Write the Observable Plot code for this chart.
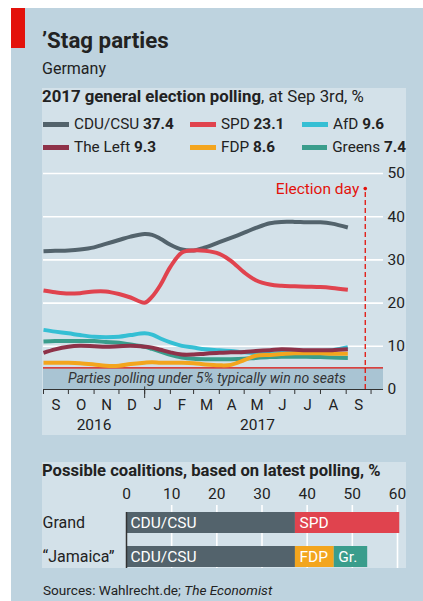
<!DOCTYPE html>
<html><head><meta charset="utf-8">
<script src="https://cdn.jsdelivr.net/npm/d3@7"></script>
<script src="https://cdn.jsdelivr.net/npm/@observablehq/plot@0.6"></script>
<style>
body{margin:0;background:#fff;font-family:Roboto,"Noto Sans",sans-serif;color:#222;}
#wrap{position:relative;width:423px;height:601px;overflow:hidden;}
.abs{position:absolute;white-space:nowrap;}
.leg{display:flex;align-items:center;font-size:15.3px;height:20px;}
.sw{display:inline-block;width:26px;height:5px;margin-right:5px;}
</style></head><body>
<div id="wrap">
 <div class="abs" style="left:11px;top:8px;width:412px;height:593px;background:#bed3df"></div>
 <div class="abs" style="left:11px;top:8px;width:14px;height:40px;background:#e3120b"></div>
 <div class="abs" style="left:42px;top:29px;font-size:22.3px;line-height:23px;font-weight:bold">’Stag parties</div>
 <div class="abs" style="left:42px;top:61px;font-size:16px;line-height:16px">Germany</div>
 <div class="abs" style="left:42px;top:88px;width:364px;height:347px;background:#d3e1e9"></div>
 <div class="abs" style="left:42px;top:88px;font-size:16.8px;line-height:17px"><b>2017 general election polling</b>, at Sep 3rd, %</div>
 <div class="abs" id="legend" style="left:43px;top:114px;width:363px"></div>
 <div class="abs" id="lines" style="left:42px;top:160px"></div>
 <div class="abs" style="left:42px;top:462px;width:364px;height:106px;background:#d3e1e9"></div>
 <div class="abs" style="left:42px;top:462px;font-size:16.6px;line-height:17px;font-weight:bold">Possible coalitions, based on latest polling, %</div>
 <div class="abs" id="bars" style="left:42px;top:480px"></div>
 <div class="abs" style="left:43px;top:583px;font-size:13.6px;line-height:14px">Sources: Wahlrecht.de; <i>The Economist</i></div>
</div>
<script>
// ---- data ----
const dates = ["2016-09-01","2016-09-15","2016-10-01","2016-10-15","2016-11-01","2016-11-15","2016-12-01","2016-12-15","2017-01-01","2017-01-10","2017-01-20","2017-02-01","2017-02-15","2017-03-01","2017-03-15","2017-04-01","2017-04-15","2017-05-01","2017-05-15","2017-06-01","2017-06-15","2017-07-01","2017-07-15","2017-08-01","2017-08-15","2017-09-03"];
const cdu    = [32.0,32.1,32.2,32.4,32.9,33.7,34.6,35.4,36.0,35.8,34.9,33.5,32.4,32.2,32.9,34.1,35.1,36.3,37.4,38.5,38.8,38.8,38.7,38.7,38.4,37.5];
const spd    = [22.9,22.5,22.2,22.3,22.7,22.7,22.1,21.3,20.1,21.5,24.2,28.4,31.7,32.2,32.1,31.4,29.8,27.1,25.3,24.3,24.0,23.9,23.8,23.7,23.5,23.1];
const afd    = [13.8,13.4,13.0,12.6,12.2,12.1,12.2,12.6,13.0,12.7,11.8,10.9,10.1,9.7,9.3,9.1,8.9,8.6,8.4,8.3,8.5,8.7,8.8,8.9,9.1,9.8];
const left   = [8.5,9.3,9.9,10.1,10.0,9.9,10.0,10.1,9.9,9.7,9.2,8.6,8.1,8.1,8.3,8.5,8.6,8.7,8.9,9.1,9.3,9.2,9.1,9.1,9.1,9.3];
const fdp    = [6.2,6.2,6.2,6.1,5.8,5.5,5.5,5.9,6.2,6.3,6.2,6.2,6.2,6.1,5.8,5.6,5.7,6.8,7.8,8.0,8.2,8.4,8.4,8.4,8.3,8.3];
const greens = [11.1,11.2,11.2,11.2,11.2,11.0,10.8,10.4,9.9,9.4,8.8,8.0,7.4,7.1,7.0,7.0,7.0,7.1,7.3,7.5,7.6,7.6,7.6,7.5,7.4,7.3];

const parties = ["CDU/CSU","SPD","AfD","The Left","FDP","Greens"];
const latest  = [37.4, 23.1, 9.6, 9.3, 8.6, 7.4];
const yTicks = [0,10,20,30,40,50];
const monthLabels = ["S","O","N","D","J","F","M","A","M","J","J","A","S"];
const firstMonth = "2016-09-01";
const yearLabels = ["2016","2017"];
const yearCentres = ["2016-11-01","2017-05-17"];
const threshold = 5;
const thresholdNote = "Parties polling under 5% typically win no seats";
const noteDate = "2017-03-17";
const electionDay = "2017-09-24";
const electionLabel = "Election day";
const electionTop = 46.5;

const coalitions = ["Grand","“Jamaica”"];
const coalitionParties = [["CDU/CSU","SPD"],["CDU/CSU","FDP","Greens"]];
const coalitionShort   = [["CDU/CSU","SPD"],["CDU/CSU","FDP","Gr."]];
const coalitionValues  = [[37.4,23.1],[37.4,8.6,7.4]];
const barTicks = [0,10,20,30,40,50,60];

// ---- styles ----
const colors = ["#53636c","#e0434e","#35bfd4","#8e3249","#f3a51e","#3a9d8c"];
const drawOrder = ["CDU/CSU","SPD","Greens","AfD","FDP","The Left"];
const seriesByParty = {"CDU/CSU":cdu,"SPD":spd,"AfD":afd,"The Left":left,"FDP":fdp,"Greens":greens};

// legend
const leg = document.getElementById("legend");
leg.style.display = "grid";
leg.style.gridTemplateColumns = "147px 112px 104px";
leg.style.rowGap = "3px";
parties.forEach((p,i)=>{
  const d = document.createElement("div");
  d.className = "leg";
  d.innerHTML = `<span class="sw" style="background:${colors[i]}"></span>${p}&nbsp;<b>${latest[i]}</b>`;
  leg.appendChild(d);
});

const parse = d3.isoParse;
const rows = [];
drawOrder.forEach(p => seriesByParty[p].forEach((v,i)=>rows.push({party:p, date:parse(dates[i]), value:v})));

const start = parse(firstMonth);
const monthTicks = d3.range(monthLabels.length+1).map(i=>d3.utcMonth.offset(start,i));
const monthMids = monthLabels.map((l,i)=>({label:l, date:new Date((+monthTicks[i] + +monthTicks[i+1])/2)}));
const domainEnd = d3.utcDay.offset(monthTicks[monthTicks.length-1], 15);
const colorScale = {domain:parties, range:colors};

const lineChart = Plot.plot({
  width:364, height:275, marginLeft:1, marginRight:23, marginTop:13, marginBottom:46,
  style:{background:"transparent", fontFamily:"Roboto,'Noto Sans',sans-serif", fontSize:"15px", color:"#222", overflow:"visible"},
  x:{type:"utc", domain:[start, domainEnd], axis:null},
  y:{domain:[0,50], axis:null},
  color:colorScale,
  marks:[
    Plot.rect([threshold],{y1:0, y2:d=>d, fill:"#a9c4d3"}),
    Plot.gridY(yTicks.slice(1),{stroke:"#fff", strokeOpacity:1, strokeWidth:1.6}),
    Plot.text([thresholdNote],{x:parse(noteDate), y:threshold/2, text:d=>d, fontStyle:"italic", fontSize:14, fill:"#333"}),
    Plot.ruleY([threshold],{stroke:"#e3120b", strokeWidth:1.2}),
    Plot.line(rows,{x:"date", y:"value", z:"party", stroke:"party", strokeWidth:4, curve:"catmull-rom", strokeLinecap:"butt"}),
    Plot.ruleX([parse(electionDay)],{y1:0, y2:electionTop, stroke:"#e3120b", strokeWidth:1.3, strokeDasharray:"5,3"}),
    Plot.dot([parse(electionDay)],{x:d=>d, y:electionTop, r:1.8, fill:"#e3120b"}),
    Plot.text([electionLabel],{x:parse(electionDay), y:electionTop, text:d=>d, textAnchor:"end", dx:-6, fill:"#e3120b", fontSize:15.5}),
    Plot.ruleY([0],{stroke:"#333", strokeWidth:1.2}),
    Plot.axisX(monthTicks,{tickSize:5, tickFormat:()=>"", stroke:"#333", label:null}),
    Plot.axisX([monthTicks[4]],{tickSize:9, tickFormat:()=>"", stroke:"#333", label:null}),
    Plot.ruleX([monthTicks[4]],{y1:0, y2:0.6, stroke:"#333"}),
    Plot.text(monthMids,{x:"date", text:"label", frameAnchor:"bottom", dy:20, fontSize:15}),
    Plot.text(yearLabels,{x:(d,i)=>parse(yearCentres[i]), text:d=>d, frameAnchor:"bottom", dy:40, fontSize:15.5}),
    Plot.axisY(yTicks,{anchor:"right", tickSize:0, tickPadding:4, fontSize:15.5, label:null})
  ]
});
document.getElementById("lines").appendChild(lineChart);

const barRows = [];
coalitions.forEach((c,i)=>coalitionParties[i].forEach((p,j)=>barRows.push({coalition:c, party:p, label:coalitionShort[i][j], value:coalitionValues[i][j]})));

const barChart = Plot.plot({
  width:364, height:88, marginLeft:84, marginRight:9, marginTop:32, marginBottom:0,
  style:{background:"transparent", fontFamily:"Roboto,'Noto Sans',sans-serif", fontSize:"15.5px", color:"#222", overflow:"visible"},
  x:{domain:[0,60], axis:null},
  y:{domain:coalitions, paddingInner:0.38, paddingOuter:0, axis:null},
  color:colorScale,
  marks:[
    Plot.ruleX(barTicks.slice(1),{stroke:"#fff", strokeWidth:1.6, insetTop:-7}),
    Plot.barX(barRows, Plot.stackX({x:"value", y:"coalition", fill:"party"})),
    Plot.text(barRows, Plot.stackX1({x:"value", y:"coalition", text:"label", textAnchor:"start", dx:4, fill:"#fff", fontSize:15.5})),
    Plot.ruleX([0],{stroke:"#333", strokeWidth:1.5}),
    Plot.axisX(barTicks,{anchor:"top", tickSize:0, tickPadding:14, fontSize:15.5, label:null}),
    Plot.axisY(coalitions,{anchor:"left", tickSize:0, tickPadding:84, textAnchor:"start", fontSize:16, label:null})
  ]
});
document.getElementById("bars").appendChild(barChart);
</script>
</body></html>
